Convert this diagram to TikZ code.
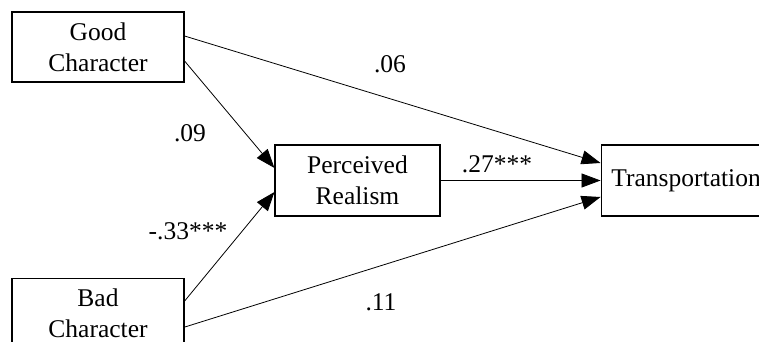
\documentclass[tikz,border=0pt]{standalone}
\usepackage{fontspec}
\setmainfont{Liberation Serif}
\usepackage{tikz}
\usetikzlibrary{arrows.meta, positioning}

\begin{document}
\begin{tikzpicture}[
  x=1pt, y=1pt,
  font=\fontsize{25.5}{31}\selectfont,
  box/.style={rectangle, draw=black, line width=1.1pt, minimum width=172pt, minimum height=70pt, align=center, inner sep=0pt},
  arrow/.style={line width=0.8pt, -{Triangle[length=19pt, width=14pt]}},
  coef/.style={anchor=base, inner sep=0pt}
]
\clip (0,0) rectangle (759,342);

% Predictors and mediator
\node (good) [box] at (98,295) {Good\\Character};
\node (bad) [box, below=195pt of good] {Bad\\Character};
\node (realism) [box, minimum width=165pt, minimum height=71pt] at (357.5,161.5) {Perceived\\Realism};
\node (transport) [box, minimum width=170pt, minimum height=71pt, right=160pt of realism] {Transportation};

% Paths
\draw [arrow] ([yshift=11pt]good.east) -- ([yshift=17.5pt]transport.west);
\draw [arrow] ([yshift=-14pt]good.east) -- ([yshift=12.5pt]realism.west);
\draw [arrow] ([yshift=12pt]bad.east) -- ([yshift=-11.5pt]realism.west);
\draw [arrow] ([yshift=-14pt]bad.east) -- ([yshift=-16.5pt]transport.west);
\draw [arrow] (realism.east) -- (transport.west);

% Path coefficients
\node (c_gt) [coef] at (390,269) {.06};
\node (c_gr) [coef] at (190,200) {.09};
\node (c_br) [coef] at (188,102) {-.33***};
\node (c_rt) [coef] at (497,169) {.27***};
\node (c_bt) [coef] at (381,31) {.11};

\end{tikzpicture}
\end{document}
